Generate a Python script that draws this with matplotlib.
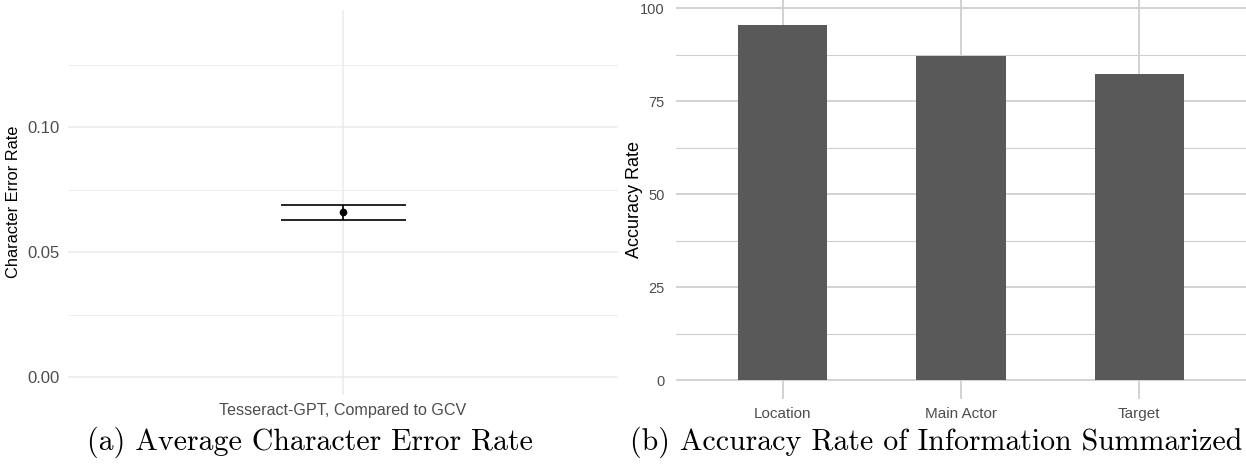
import numpy as np
import matplotlib.pyplot as plt
from matplotlib.ticker import MultipleLocator


# ============================================================
# Data
# ============================================================

# (a) character error rate
cer_labels = ["Tesseract-GPT, Compared to GCV"]
cer_mean = [0.066]
cer_lower = [0.0628]
cer_upper = [0.0688]

# (b) accuracy of summarized information
info_labels = ["Location", "Main Actor", "Target"]
info_accuracy = [95.6, 87.3, 82.4]

SANS = ["Liberation Sans", "DejaVu Sans"]
NARROW = ["Liberation Sans Narrow", "Liberation Sans", "DejaVu Sans"]
CAPTION_FONT = ["cmr10", "DejaVu Serif"]


def style_axes(ax, grid_color, major_lw, minor_lw):
    for spine in ax.spines.values():
        spine.set_visible(False)
    ax.tick_params(which="both", length=0)
    ax.set_axisbelow(True)
    ax.grid(which="major", color=grid_color, linewidth=major_lw)
    ax.grid(which="minor", axis="y", color=grid_color, linewidth=minor_lw)


def main() -> None:
    fig = plt.figure(figsize=(12.46, 4.66), dpi=100)

    # ---------------- (a) ----------------
    ax1 = fig.add_axes([0.0546, 0.1534, 0.4414, 0.826])
    x1 = np.arange(len(cer_labels))
    mean = np.array(cer_mean)
    err = np.vstack([mean - np.array(cer_lower), np.array(cer_upper) - mean])
    ax1.errorbar(
        x1, mean, yerr=err,
        fmt="o", color="black", markersize=4.5,
        elinewidth=1.2, capsize=45, capthick=1.2,
    )
    ax1.set_xlim(-0.6, 0.6)
    ax1.set_ylim(-0.007, 0.147)
    ax1.set_xticks(x1)
    ax1.set_xticklabels(cer_labels, family=SANS, fontsize=11.6, color="#4d4d4d")
    ax1.yaxis.set_major_locator(MultipleLocator(0.05))
    ax1.yaxis.set_minor_locator(MultipleLocator(0.025))
    ax1.yaxis.set_major_formatter(lambda v, p: f"{v:.2f}")
    for lab in ax1.get_yticklabels():
        lab.set_family(SANS)
        lab.set_fontsize(12)
        lab.set_color("#4d4d4d")
    ax1.tick_params(axis="y", pad=6)
    ax1.tick_params(axis="x", pad=6)
    ax1.set_ylabel("Character Error Rate", family=SANS, fontsize=11.8)
    ax1.yaxis.set_label_coords(-0.086, 0.5)
    style_axes(ax1, "#ebebeb", 1.1, 0.6)

    # ---------------- (b) ----------------
    ax2 = fig.add_axes([0.5425, 0.1446, 0.4575, 0.855])
    x2 = np.arange(len(info_labels))
    ax2.bar(x2, info_accuracy, width=0.5, color="#595959", zorder=2)
    ax2.set_xlim(-0.6, len(info_labels) - 0.4)
    ax2.set_ylim(-5, 102.2)
    ax2.set_xticks(x2)
    ax2.set_xticklabels(info_labels, family=NARROW, fontsize=11, color="#4d4d4d")
    ax2.yaxis.set_major_locator(MultipleLocator(25))
    ax2.yaxis.set_minor_locator(MultipleLocator(12.5))
    for lab in ax2.get_yticklabels():
        lab.set_family(NARROW)
        lab.set_fontsize(10.5)
        lab.set_color("#4d4d4d")
    ax2.tick_params(axis="y", pad=8)
    ax2.tick_params(axis="x", pad=6)
    ax2.set_ylabel("Accuracy Rate", family=SANS, fontsize=13)
    ax2.yaxis.set_label_coords(-0.058, 0.5)
    style_axes(ax2, "#cfcfcf", 1.3, 0.8)

    # ---------------- captions ----------------
    fig.text(0.249, 0.051, "(a) Average Character Error Rate",
             family=CAPTION_FONT, fontsize=21.5, ha="center", va="center")
    fig.text(0.751, 0.051, "(b) Accuracy Rate of Information Summarized",
             family=CAPTION_FONT, fontsize=21.5, ha="center", va="center")

    fig.savefig("out.png", dpi=100)
    plt.close(fig)


if __name__ == "__main__":
    main()
